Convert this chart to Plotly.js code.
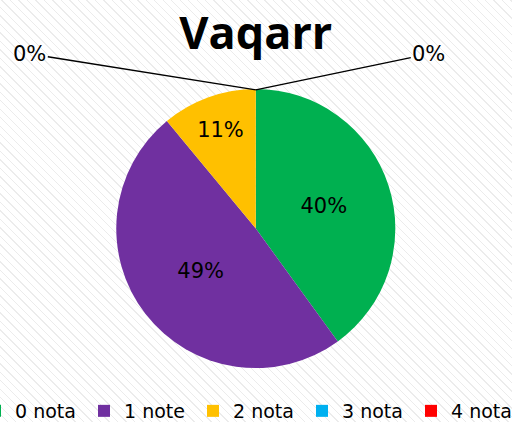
<!DOCTYPE html>
<html>
<head>
<meta charset="utf-8">
<script src="https://cdn.plot.ly/plotly-3.0.1.min.js"></script>
<style>
html,body{margin:0;padding:0;width:512px;height:422px;overflow:hidden;
background-color:#ffffff;
background-image:repeating-linear-gradient(45deg, rgba(0,0,0,0) 0px, rgba(0,0,0,0) 5px, rgba(200,200,200,0.35) 5px, rgba(200,200,200,0.35) 6px);}
#chart{width:600px;height:430px;margin-left:-25px;}
</style>
</head>
<body>
<div id="chart"></div>
<script>
var categories = ["0 nota", "1 note", "2 nota", "3 nota", "4 nota"];
var shares = [40, 49, 11, 0, 0];
var colors = ["#00B050", "#7030A0", "#FFC000", "#00B0F0", "#FF0000"];
var chartTitle = "Vaqarr";
var zeroLabel = "0%";

var cx = 0.468;

var trace = {
  type: "pie",
  labels: categories,
  values: shares,
  sort: false,
  direction: "clockwise",
  rotation: 0,
  marker: {colors: colors, line: {width: 0}},
  texttemplate: "%{percent:.0%}",
  textposition: "inside",
  insidetextorientation: "horizontal",
  textfont: {family: "DejaVu Sans", size: 21, color: "#000000"},
  hoverinfo: "label+percent",
  domain: {x: [cx - 0.26, cx + 0.26], y: [0.144, 0.793]},
  showlegend: true
};

var layout = {
  width: 600, height: 430,
  margin: {l: 0, r: 0, t: 0, b: 0},
  paper_bgcolor: "rgba(0,0,0,0)",
  plot_bgcolor: "rgba(0,0,0,0)",
  title: {text: "<b>" + chartTitle + "</b>", font: {family: "Open Sans", size: 45, color: "#000000"},
          x: cx, xanchor: "center", y: 0.923, yanchor: "middle"},
  legend: {orientation: "h", x: 0, xanchor: "left", y: 0.0, yanchor: "bottom",
           font: {family: "DejaVu Sans", size: 19, color: "#000000"},
           entrywidth: 64, entrywidthmode: "pixels",
           itemwidth: 30, traceorder: "normal", bgcolor: "rgba(0,0,0,0)"},
  annotations: [
    {text: zeroLabel, xref: "paper", yref: "paper", x: cx, y: 0.791,
     showarrow: true, arrowhead: 0, arrowwidth: 1.5, arrowcolor: "#000000",
     ax: -226, ay: -36, font: {family: "DejaVu Sans", size: 21, color: "#000000"}},
    {text: zeroLabel, xref: "paper", yref: "paper", x: cx, y: 0.791,
     showarrow: true, arrowhead: 0, arrowwidth: 1.5, arrowcolor: "#000000",
     ax: 173, ay: -36, font: {family: "DejaVu Sans", size: 21, color: "#000000"}}
  ]
};

Plotly.newPlot("chart", [trace], layout, {displayModeBar: false, staticPlot: true});
</script>
</body>
</html>
